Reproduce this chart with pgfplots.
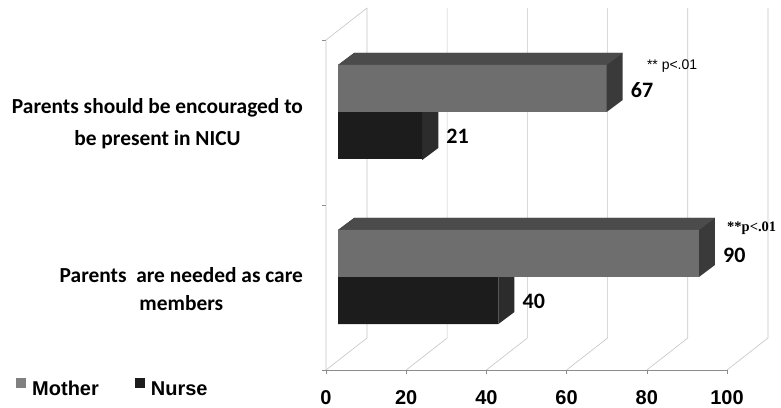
\documentclass[border=0pt]{standalone}
\usepackage{fontspec}
\setmainfont{Carlito}
\newfontfamily\arialfont{Liberation Sans}
\newfontfamily\timesfont{Liberation Serif}
\usepackage{pgfplots}
\usepackage{pgfplotstable}
\pgfplotsset{compat=1.18}
\definecolor{mfront}{HTML}{6E6E6E}
\definecolor{mtop}{HTML}{4B4B4B}
\definecolor{mside}{HTML}{3A3A3A}
\definecolor{mleg}{HTML}{808080}
\definecolor{nfront}{HTML}{1C1C1C}
\definecolor{nside}{HTML}{2C2C2C}
\definecolor{gridc}{HTML}{C4C4C4}
\definecolor{axc}{HTML}{8C8C8C}

% y = position of bar centre, v = percentage
\pgfplotstableread{
y v
281.5 67
116.5 90
}\mothertable
\pgfplotstableread{
y v
234.5 21
69.5 40
}\nursetable

\begin{document}
\begin{tikzpicture}
\path[use as bounding box] (0,0) rectangle (781pt,407pt);
\begin{axis}[
  at={(326pt,37pt)}, anchor=south west,
  scale only axis, width=441.9pt, height=362pt,
  xmin=-3, xmax=107.2, ymin=0, ymax=362,
  clip=false,
  axis line style={draw=none},
  xtick={-3,17,37,57,77,97},
  xticklabels={0,20,40,60,80,100},
  ytick={0,165,330}, yticklabels={},
  xtick pos=left, ytick pos=left,
  tick align=outside, major tick length=4pt,
  tick style={axc, line width=0.6pt},
  /pgf/number format/assume math mode=true,
  xticklabel style={font=\arialfont\bfseries\fontsize{20}{20}\selectfont, anchor=base, yshift=-30pt},
  legend columns=-1,
  legend style={at={(axis cs:-80.3,-18)}, anchor=west, draw=none, fill=none, inner sep=0pt,
     font=\arialfont\bfseries\fontsize{20}{20}\selectfont,
     nodes={inner sep=1pt},
     /tikz/every odd column/.append style={column sep=5pt},
     /tikz/every even column/.append style={column sep=35pt}},
  legend image code/.code={\fill[#1, draw=none] (0pt,2pt) rectangle (10pt,12pt);},
]
\addlegendimage{fill=mleg}
\addlegendentry{Mother}
\addlegendimage{fill=nfront}
\addlegendentry{Nurse}
% grid: floor diagonals and back wall verticals
\addplot[gridc, line width=0.6pt, forget plot] coordinates {(-3,0) (7.22,32) (7.22,362)};
\addplot[gridc, line width=0.6pt, forget plot] coordinates {(17,0) (27.22,32) (27.22,362)};
\addplot[gridc, line width=0.6pt, forget plot] coordinates {(37,0) (47.22,32) (47.22,362)};
\addplot[gridc, line width=0.6pt, forget plot] coordinates {(57,0) (67.22,32) (67.22,362)};
\addplot[gridc, line width=0.6pt, forget plot] coordinates {(77,0) (87.22,32) (87.22,362)};
\addplot[gridc, line width=0.6pt, forget plot] coordinates {(97,0) (107.22,32) (107.22,362)};
% side wall and floor front edge
\addplot[gridc, line width=0.6pt, forget plot] coordinates {(-3,0) (-3,330) (7.22,362)};
\addplot[axc, line width=0.6pt, forget plot] coordinates {(-3,0) (97,0)};

% Nurse bars: visible side faces
\addplot[fill=nside, draw=none, forget plot] coordinates {(21,210) (25,222) (25,258) (21,258)} -- cycle;
\addplot[fill=nside, draw=none, forget plot] coordinates {(40,46) (44,58) (44,93) (40,93)} -- cycle;
\addplot[xbar, bar width=47, bar shift=0pt, fill=nfront, draw=none, forget plot,
   point meta=x, nodes near coords,
   nodes near coords style={anchor=west, inner sep=0pt, xshift=24pt, yshift=-1pt,
     font=\bfseries\fontsize{22}{22}\selectfont, text=black}]
   table[x=v, y=y] {\nursetable};

% Mother bars: side + top faces
\addplot[fill=mside, draw=none, forget plot] coordinates {(0,258) (67,258) (71,270) (71,317) (4,317) (0,305)} -- cycle;
\addplot[fill=mtop, draw=none, forget plot] coordinates {(0,305) (67,305) (71,317) (4,317)} -- cycle;
\addplot[fill=mside, draw=none, forget plot] coordinates {(0,93) (90,93) (94,105) (94,152) (4,152) (0,140)} -- cycle;
\addplot[fill=mtop, draw=none, forget plot] coordinates {(0,140) (90,140) (94,152) (4,152)} -- cycle;
\addplot[xbar, bar width=47, bar shift=0pt, fill=mfront, draw=none, forget plot,
   point meta=x, nodes near coords,
   nodes near coords style={anchor=west, inner sep=0pt, xshift=24pt, yshift=-2pt,
     font=\bfseries\fontsize{22}{22}\selectfont, text=black}]
   table[x=v, y=y] {\mothertable};

% annotations
\node[anchor=west, inner sep=0pt, font=\arialfont\fontsize{14}{14}\selectfont] at (axis cs:77,304) {** p<.01};
\node[anchor=west, inner sep=0pt, font=\timesfont\bfseries\fontsize{14.5}{14.5}\selectfont] at (axis cs:97,142) {**p<.01};

% category labels
\node[anchor=east, align=center, inner sep=0pt, font=\bfseries\fontsize{21.4}{32}\selectfont] at (axis cs:-8.7,246)
  {Parents should be encouraged to\\be present in NICU};
\node[anchor=east, align=center, inner sep=0pt, font=\bfseries\fontsize{21.4}{28}\selectfont] at (axis cs:-8.7,81)
  {Parents\ \ are needed as care\\members};
\end{axis}
\end{tikzpicture}
\end{document}
